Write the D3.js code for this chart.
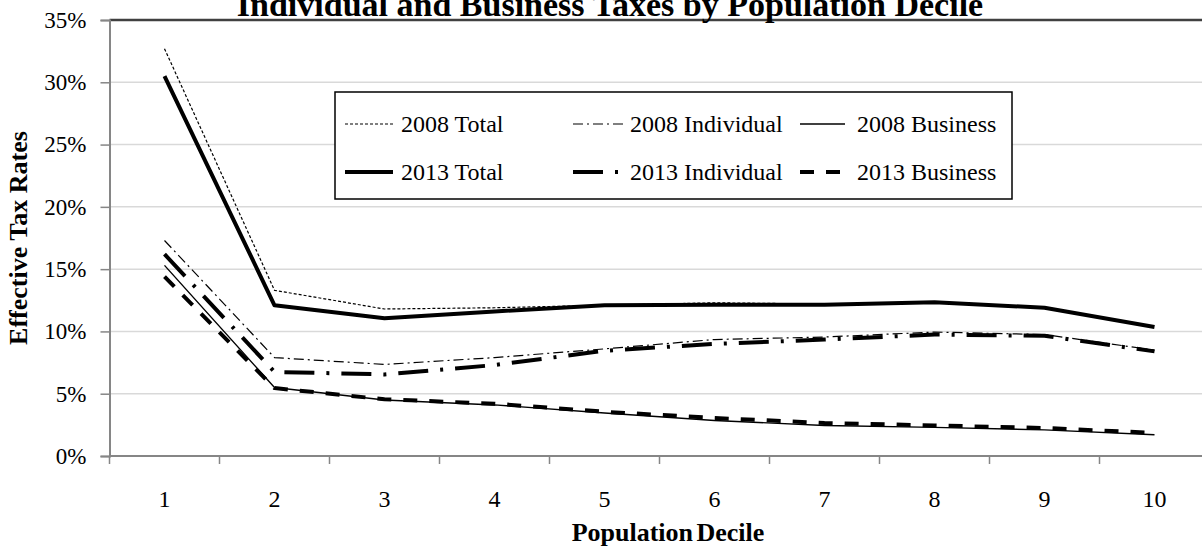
<!DOCTYPE html>
<html><head><meta charset="utf-8">
<script src="https://cdn.jsdelivr.net/npm/d3@7"></script>
<style>
html,body{margin:0;padding:0;background:#fff;overflow:hidden;}
text{font-family:"Liberation Serif","Times New Roman",serif;fill:#000;}
</style></head>
<body>
<svg id="chart" width="1202" height="546"></svg>
<script>
const deciles = ["1","2","3","4","5","6","7","8","9","10"];
const total2008 = [32.7, 13.3, 11.8, 11.9, 12.1, 12.3, 12.2, 12.3, 11.9, 10.4];
const total2013 = [30.5, 12.1, 11.05, 11.6, 12.1, 12.15, 12.15, 12.35, 11.9, 10.35];
const ind2008 = [17.3, 7.9, 7.35, 7.9, 8.6, 9.35, 9.55, 9.95, 9.75, 8.5];
const ind2013 = [16.2, 6.75, 6.55, 7.3, 8.45, 9.0, 9.35, 9.75, 9.65, 8.4];
const bus2008 = [15.3, 5.5, 4.5, 4.1, 3.45, 2.85, 2.45, 2.3, 2.1, 1.7];
const bus2013 = [14.4, 5.45, 4.55, 4.2, 3.55, 3.05, 2.65, 2.45, 2.25, 1.85];
const yTicks = [0, 5, 10, 15, 20, 25, 30, 35];
const seriesNames = ["2008 Total","2008 Individual","2008 Business","2013 Total","2013 Individual","2013 Business"];
const chartTitle = "Individual and Business Taxes by Population Decile";
const xTitle = "Population Decile";
const yTitle = "Effective Tax Rates";

const styles = {
  "2008 Total":      {w:1.2, dash:"3,2"},
  "2008 Individual": {w:1.2, dash:"10,4,2,4"},
  "2008 Business":   {w:1.4, dash:null},
  "2013 Total":      {w:4,   dash:null},
  "2013 Individual": {w:4,   dash:"30,12,3,12"},
  "2013 Business":   {w:4,   dash:"14,12"}
};
const seriesData = {
  "2008 Total": total2008, "2008 Individual": ind2008, "2008 Business": bus2008,
  "2013 Total": total2013, "2013 Individual": ind2013, "2013 Business": bus2013
};

const svg = d3.select("#chart");
const pL = 109.5, pR = 1209.5, pT = 20, pB = 456;
const x = d3.scaleBand().domain(deciles).range([pL, pR]);
const y = d3.scaleLinear().domain([0, 35]).range([pB, pT]);

// gridlines
svg.append("g").selectAll("line").data(yTicks.filter(t => t > 0 && t < 35)).join("line")
  .attr("x1", pL).attr("x2", 1202).attr("y1", d => y(d)).attr("y2", d => y(d))
  .attr("stroke", "#d9d9d9").attr("stroke-width", 1.5);
// top border
svg.append("line").attr("x1", pL).attr("x2", 1202).attr("y1", y(35)).attr("y2", y(35))
  .attr("stroke", "#404040").attr("stroke-width", 2.5);

// y axis
const yAxis = d3.axisLeft(y).tickValues(yTicks).tickFormat(d => d + "%").tickSize(9).tickPadding(14);
const gy = svg.append("g").attr("transform", `translate(${pL},0)`).call(yAxis);
gy.select(".domain").attr("stroke", "#868686").attr("stroke-width", 2);
gy.selectAll(".tick line").attr("stroke", "#868686").attr("stroke-width", 1.5);
gy.selectAll(".tick text").style("font-size", "23px").style("font-family", '"Liberation Serif","Times New Roman",serif').attr("fill", "#000");

// x axis (ticks between categories)
const gx = svg.append("g").attr("transform", `translate(0,${pB})`);
gx.append("line").attr("x1", pL).attr("x2", 1202).attr("stroke", "#868686").attr("stroke-width", 2);
gx.selectAll("line.tk").data(deciles).join("line").attr("class", "tk")
  .attr("x1", d => x(d)).attr("x2", d => x(d)).attr("y1", 0).attr("y2", 8)
  .attr("stroke", "#868686").attr("stroke-width", 1.5);
gx.selectAll("text").data(deciles).join("text")
  .attr("x", d => x(d) + x.bandwidth() / 2).attr("y", 51)
  .attr("text-anchor", "middle").style("font-size", "24px").text(d => d);

// lines
const line = d3.line().x((d, i) => x(deciles[i]) + x.bandwidth() / 2).y(d => y(d));
const order = ["2008 Total","2008 Individual","2008 Business","2013 Business","2013 Individual","2013 Total"];
order.forEach(name => {
  const s = styles[name];
  svg.append("path").datum(seriesData[name]).attr("d", line)
    .attr("fill", "none").attr("stroke", "#000").attr("stroke-width", s.w)
    .attr("stroke-dasharray", s.dash).attr("stroke-linejoin", "round");
});

// legend
const lg = svg.append("g");
lg.append("rect").attr("x", 335).attr("y", 92).attr("width", 677).attr("height", 107)
  .attr("fill", "#fff").attr("stroke", "#000").attr("stroke-width", 1.5);
const colSym = [345, 573, 800], colSymEnd = [393, 625, 845], colText = [401, 630, 857];
const rowY = [124, 172];
seriesNames.forEach((name, i) => {
  const r = Math.floor(i / 3), c = i % 3;
  const s = styles[name];
  lg.append("line").attr("x1", colSym[c]).attr("x2", colSymEnd[c]).attr("y1", rowY[r]).attr("y2", rowY[r])
    .attr("stroke", "#000").attr("stroke-width", s.w).attr("stroke-dasharray", s.dash);
  lg.append("text").attr("x", colText[c]).attr("y", rowY[r] + 8).style("font-size", "24px").text(name);
});

// titles
svg.append("text").attr("x", 610).attr("y", 16).attr("text-anchor", "middle")
  .style("font-size", "34px").style("font-weight", "bold").text(chartTitle);
svg.append("text").attr("x", 668).attr("y", 541).attr("text-anchor", "middle")
  .style("font-size", "26px").style("font-weight", "bold").style("word-spacing", "-3px").text(xTitle);
svg.append("text").attr("transform", `translate(27,${(pT + pB) / 2}) rotate(-90)`)
  .attr("text-anchor", "middle").style("font-size", "26px").style("font-weight", "bold").text(yTitle);
</script>
</body></html>
